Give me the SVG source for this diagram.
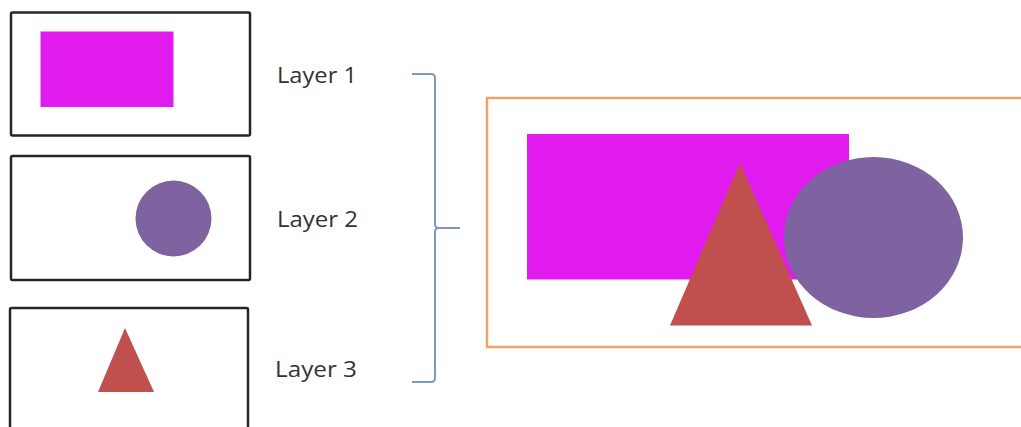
<svg xmlns="http://www.w3.org/2000/svg" width="1021" height="427" viewBox="0 0 1021 427">
<style>
.box{fill:#fff;stroke:#262626;stroke-width:2.5}
.lbl{font-family:"Open Sans","Liberation Sans",Arial,sans-serif;font-size:21.5px;fill:#333}
.mag{fill:#e11aed}
.pur{fill:#7f63a1}
.red{fill:#c0504d}
</style>
<rect width="1021" height="427" fill="#fff"/>
<g id="layer1">
<rect class="box" x="11" y="12.5" width="239" height="123" rx="1.5"/>
<rect class="mag" x="40.5" y="31.5" width="133" height="75.5"/>
</g>
<g id="layer2">
<rect class="box" x="11" y="156" width="239" height="124" rx="1.5"/>
<circle class="pur" cx="173.5" cy="218.5" r="38"/>
</g>
<g id="layer3">
<rect class="box" x="10" y="308" width="238" height="130" rx="1.5"/>
<polygon class="red" points="125,328 98,392 154,392"/>
</g>
<g id="labels">
<text class="lbl" x="277" y="83" textLength="80" lengthAdjust="spacingAndGlyphs">Layer 1</text>
<text class="lbl" x="277" y="227" textLength="81" lengthAdjust="spacingAndGlyphs">Layer 2</text>
<text class="lbl" x="275" y="377" textLength="82" lengthAdjust="spacingAndGlyphs">Layer 3</text>
</g>
<g id="connectors">
<path d="M412,74 H431 Q435,74 435,78 V224 Q435,228 439,228 H460 M439,228 Q435,228 435,232 V378 Q435,382 431,382 H412" fill="none" stroke="#7c98bf" stroke-width="2"/>
</g>
<g id="composite">
<rect x="487" y="98" width="545" height="249" fill="#fff" stroke="#eea466" stroke-width="2.5"/>
<rect class="mag" x="527" y="134" width="322" height="145.5"/>
<ellipse class="pur" cx="873.5" cy="237.5" rx="89.5" ry="80.5"/>
<polygon class="red" points="740,163 670,325.5 812,325.5"/>
</g>
</svg>
